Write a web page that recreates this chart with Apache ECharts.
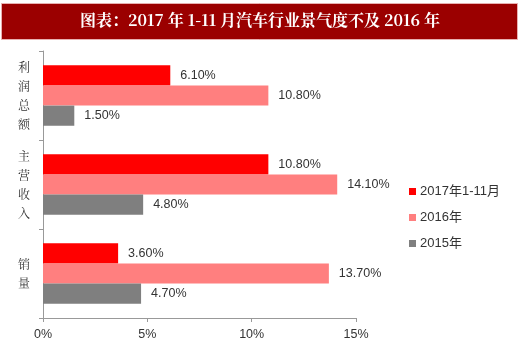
<!DOCTYPE html>
<html><head><meta charset="utf-8">
<script src="https://cdn.jsdelivr.net/npm/echarts@6/dist/echarts.min.js"></script>
<style>html,body{margin:0;padding:0;background:#fff}#c{width:520px;height:363px}</style>
</head><body><div id="c"></div>
<script>
var categories = ['利润总额', '主营收入', '销量'];
var seriesNames = ['2017年1-11月', '2016年', '2015年'];
var values2017 = [6.10, 10.80, 3.60];
var values2016 = [10.80, 14.10, 13.70];
var values2015 = [1.50, 4.80, 4.70];
var xTicks = [0, 5, 10, 15];
var colors = ['#ff0000', '#ff7f7f', '#7f7f7f'];
var titleText = '图表：2017 年 1-11 月汽车行业景气度不及 2016 年';

var chart = echarts.init(document.getElementById('c'), null, {renderer: 'canvas'});
var font = '"Noto Sans CJK SC", "Liberation Sans", Arial, sans-serif';
function mk(name, data, color) {
  return {
    name: name, type: 'bar', data: data, barGap: '0%', barCategoryGap: '32%',
    itemStyle: {color: color},
    label: {show: true, position: 'right', distance: 10, color: '#333', fontSize: 12.5,
      fontFamily: 'Liberation Sans, Arial, sans-serif',
      formatter: function (p) { return p.value.toFixed(2) + '%'; }}
  };
}
chart.setOption({
  animation: false,
  textStyle: {fontFamily: font},
  graphic: [{
    type: 'rect', left: 1, top: 3, shape: {width: 516, height: 36},
    style: {fill: '#9b0000', stroke: '#e8b0b0', lineWidth: 1}
  }, {
    type: 'text', left: 'center', top: 12,
    style: {text: titleText, fill: '#fff', font: 'bold 16px "Noto Serif CJK SC", "Noto Sans CJK SC", serif'}
  }],
  legend: {
    orient: 'vertical', left: 404, top: 180, itemWidth: 7, itemHeight: 7, itemGap: 13,
    icon: 'rect', data: seriesNames,
    textStyle: {color: '#333', fontSize: 13, padding: [0, 0, 0, -1], fontFamily: 'Liberation Sans, "Noto Sans CJK SC", sans-serif'}
  },
  grid: {left: 43, right: 164, top: 51, bottom: 45, containLabel: false},
  xAxis: {
    type: 'value', min: xTicks[0], max: xTicks[xTicks.length - 1], interval: 5,
    splitLine: {show: false},
    axisLine: {show: true, lineStyle: {color: '#999'}},
    axisTick: {show: true, length: 4, lineStyle: {color: '#999'}},
    axisLabel: {formatter: '{value}%', color: '#333', fontSize: 12.5, margin: 10,
      fontFamily: 'Liberation Sans, Arial, sans-serif'}
  },
  yAxis: {
    type: 'category', data: categories, inverse: true,
    axisLine: {show: true, lineStyle: {color: '#999'}},
    axisTick: {show: true, length: 4, lineStyle: {color: '#999'}},
    axisLabel: {color: '#333', fontSize: 12, lineHeight: 19, margin: 13,
      fontFamily: '"Noto Serif CJK SC", "Noto Sans CJK SC", serif',
      formatter: function (v) { return v.split('').join('\n'); }}
  },
  series: [mk(seriesNames[0], values2017, colors[0]), mk(seriesNames[1], values2016, colors[1]), mk(seriesNames[2], values2015, colors[2])]
});
</script></body></html>
